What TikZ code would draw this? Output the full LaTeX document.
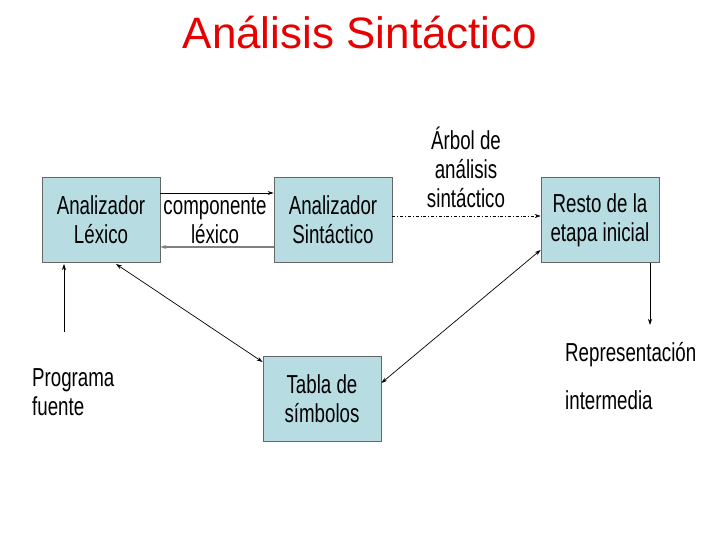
\documentclass[tikz,border=0pt]{standalone}
\usepackage{fontspec}
\setmainfont{Liberation Sans}
\newfontfamily\nar[FakeStretch=0.72]{Liberation Sans}
\usetikzlibrary{arrows.meta}
\definecolor{boxfill}{RGB}{183,221,227}
\definecolor{titred}{RGB}{230,0,0}
\begin{document}
\begin{tikzpicture}[x=1pt,y=-1pt,
  box/.style={draw=gray!80!black,line width=0.8pt,fill=boxfill,minimum width=118pt,minimum height=85pt,inner sep=0pt,align=center,font=\nar\fontsize{26}{29}\selectfont},
  lbl/.style={align=center,font=\nar\fontsize{26}{29}\selectfont},
  arr/.style={-{Stealth[length=6pt,width=4pt]},line width=0.7pt}]
\useasboundingbox (0,0) rectangle (720,540);
\node[font=\fontsize{44}{48}\selectfont,text=titred] (title) at (360,33) {Análisis Sintáctico};
\node[box] (lex) at (101,219.5) {Analizador\\Léxico};
\node[box] (sin) at (333,219.5) {Analizador\\Sintáctico};
\node[box] (res) at (600,220) {Resto de la\\etapa inicial};
\node[box] (tab) at (322,398.5) {Tabla de\\símbolos};
\node[lbl,inner sep=0pt] (comp) at (215,221) {componente\\léxico};
\node[lbl,inner sep=0pt] (arb) at (466,167) {Árbol de\\análisis\\sintáctico};
\node[lbl,align=left,anchor=west,inner sep=0pt] (prog) at (32,392) {Programa\\fuente};
\node[font=\nar\fontsize{26}{29}\selectfont,anchor=west,inner sep=0pt] (rep) at (565,355) {Representación};
\node[font=\nar\fontsize{26}{29}\selectfont,anchor=west,inner sep=0pt] (int) at (565,400) {intermedia};
\coordinate (pf) at (64,332);
\coordinate (ri) at (650,325);
\draw[arr] (lex.east|-0,193) -- (sin.west|-0,193);
\draw[arr,draw=gray,line width=1.5pt] (sin.west|-0,247) -- (lex.east|-0,247);
\draw[arr,dash dot,line width=0.5pt] (sin.east|-0,216) -- (res.west|-0,216);
\draw[{Stealth[length=6pt,width=4pt]}-{Stealth[length=6pt,width=4pt]},line width=0.7pt] (116,264) -- (tab.west|-0,362);
\draw[{Stealth[length=6pt,width=4pt]}-{Stealth[length=6pt,width=4pt]},line width=0.7pt] (tab.east|-0,383) -- (res.west|-0,250);
\draw[arr] (res.south-|ri) -- (ri);
\draw[arr] (pf) -- (64,264);
\end{tikzpicture}
\end{document}
